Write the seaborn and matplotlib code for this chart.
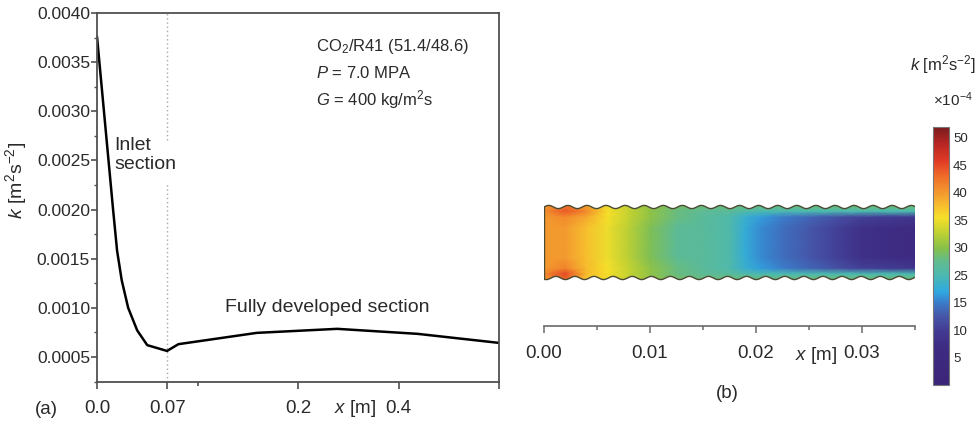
import numpy as np
import pandas as pd
import matplotlib
matplotlib.use("Agg")
import matplotlib.pyplot as plt
import seaborn as sns
from matplotlib.colors import LinearSegmentedColormap, Normalize
from matplotlib.path import Path
from matplotlib.patches import PathPatch
from matplotlib.ticker import FixedLocator

# ---------------- data: panel (a) ----------------
x_m = [0.0, 0.016, 0.020, 0.0246, 0.031, 0.040, 0.050, 0.0697, 0.081, 0.159, 0.278, 0.438, 0.6]
k_vals = [0.00376, 0.00200, 0.00158, 0.00128, 0.00100, 0.00077, 0.00062, 0.000561,
          0.00063, 0.000745, 0.000786, 0.000735, 0.000643]
xticks_a = [0.0, 0.07, 0.2, 0.4, 0.6]
xticklabels_a = ["0.0", "0.07", "0.2", "0.4", ""]
yticks_a = [0.0005, 0.0010, 0.0015, 0.0020, 0.0025, 0.0030, 0.0035, 0.0040]
yticklabels_a = ["0.0005", "0.0010", "0.0015", "0.0020", "0.0025", "0.0030", "0.0035", "0.0040"]
ann_lines = ["CO$_2$/R41 (51.4/48.6)", "$P$ = 7.0 MPA", "$G$ = 400 kg/m$^2$s"]

# ---------------- data: panel (b) ----------------
field_x = [0, 0.002, 0.004, 0.006, 0.008, 0.010, 0.0125, 0.015, 0.0175, 0.019,
           0.0205, 0.0225, 0.025, 0.0275, 0.030, 0.035]
field_y = [-1.1, -0.88, -0.72, -0.4, 0.0, 0.4, 0.72, 0.88, 1.1]
row_wall_b = [40, 43, 37, 35, 33, 30.5, 29, 28.5, 28.5, 28.5, 28.5, 28.5, 29, 29, 29, 29]
row_near_b = [41, 45, 38, 35.5, 33, 30.5, 28, 27, 26.5, 25.5, 25, 25, 25, 25, 25, 25]
row_mid_b = [40, 41.5, 38, 35.5, 33, 30.5, 28, 26.5, 25.5, 23, 21.5, 20, 18.5, 17, 15.5, 14]
row_core = [40, 40, 37.5, 35, 32.5, 29.5, 27, 26.5, 25.5, 22.5, 20.5, 19, 17.5, 15.5, 13, 11]
row_mid_t = [40, 41, 39, 35.5, 33, 30.5, 28, 26.5, 25.5, 23, 21.5, 20, 18.5, 17, 15.5, 14]
row_near_t = [40.5, 44, 41, 35.5, 33, 30.5, 28, 27, 26.5, 25.5, 25, 25, 25, 25, 25, 25]
row_wall_t = [40, 42, 39, 35, 33, 30.5, 29, 28.5, 28.5, 28.5, 28.5, 28.5, 29, 29, 29, 29]
field_k = [row_wall_b, row_near_b, row_mid_b, row_core, row_core, row_core,
           row_mid_t, row_near_t, row_wall_t]
cbar_ticks = [50, 45, 40, 35, 30, 25, 20, 15, 10]
cbar_labels = ["50", "45", "40", "35", "30", "25", "15", "10", "5"]
xticks_b = [0.0, 0.01, 0.02, 0.03]
xticklabels_b = ["0.00", "0.01", "0.02", "0.03"]

# ---------------- style ----------------
sns.set_style("ticks")
plt.rcParams["font.family"] = ["Liberation Sans", "DejaVu Sans"]
plt.rcParams["mathtext.fontset"] = "custom"
plt.rcParams["mathtext.rm"] = "Liberation Sans"
plt.rcParams["mathtext.it"] = "Liberation Sans:italic"
plt.rcParams["mathtext.sf"] = "Liberation Sans"
TXT = "#2a2a2a"
SPINE = "#505050"

W, H = 977, 426
fig = plt.figure(figsize=(W / 100, H / 100), dpi=100)
fig.patch.set_facecolor("white")

# ---------------- panel (a) ----------------
axL, axR, axT, axB = 97, 499, 13, 382
ax = fig.add_axes([axL / W, 1 - axB / H, (axR - axL) / W, (axB - axT) / H])

df = pd.DataFrame({"x": x_m, "k": k_vals})
sns.lineplot(data=df, x="x", y="k", ax=ax, color="black", lw=1.8, sort=True)


def fwd(x):
    x = np.asarray(x, dtype=float)
    return np.where(x <= 0.2, x, 0.2 + (x - 0.2) / 2.0)


def inv(y):
    y = np.asarray(y, dtype=float)
    return np.where(y <= 0.2, y, 0.2 + (y - 0.2) * 2.0)


ax.set_xscale("function", functions=(fwd, inv))
ax.set_xlim(0, 0.6)
ax.set_ylim(0.000245, 0.0040)

# dotted separator, interrupted by the label
ax.axvline(0.07, ymin=0.656, ymax=1, color="#a8a8a8", lw=1.0, ls=(0, (1, 2)), zorder=1)
ax.axvline(0.07, ymin=0, ymax=0.539, color="#a8a8a8", lw=1.0, ls=(0, (1, 2)), zorder=1)

ax.xaxis.set_major_locator(FixedLocator(xticks_a))
ax.set_xticklabels(xticklabels_a)
ax.xaxis.set_minor_locator(FixedLocator([0.1]))
ax.yaxis.set_major_locator(FixedLocator(yticks_a))
ax.set_yticklabels(yticklabels_a)
ax.yaxis.set_minor_locator(FixedLocator([0.00025 + 0.0005 * i for i in range(8)]))

for s in ax.spines.values():
    s.set_color(SPINE)
    s.set_linewidth(1.3)
ax.tick_params(axis="x", which="major", direction="out", length=5, width=1.2, color=SPINE,
               labelsize=13.5, pad=8, labelcolor=TXT)
ax.tick_params(axis="x", which="minor", direction="out", length=3, width=1.2, color=SPINE)
ax.tick_params(axis="y", which="major", direction="out", length=4, width=1.2, color=SPINE,
               labelsize=12.5, pad=1, labelcolor=TXT)
ax.tick_params(axis="y", which="minor", direction="out", length=2.5, width=1.0, color=SPINE)

ax.set_xlabel("$x$ [m]", fontsize=13.5, color=TXT)
ax.xaxis.set_label_coords((355 - axL) / (axR - axL), -(398 - axB) / (axB - axT))
ax.set_ylabel("$k$ [m$^2$s$^{-2}$]", fontsize=14, color=TXT)
ax.yaxis.set_label_coords(-(97 - 29) / (axR - axL), (axB - 180) / (axB - axT))


def axy(py):
    return (axB - py) / (axB - axT)


def axx(px):
    return (px - axL) / (axR - axL)


ax.text(axx(114), axy(155), "Inlet\nsection", fontsize=14, color=TXT, ha="left", va="center",
        linespacing=1.1, transform=ax.transAxes)
ax.text(axx(327), axy(308), "Fully developed section", fontsize=14, color=TXT,
        ha="center", va="center", transform=ax.transAxes)
for line, py in zip(ann_lines, [47, 73, 100]):
    ax.text(axx(316), axy(py), line, fontsize=12, color=TXT, ha="left", va="center",
            transform=ax.transAxes)

fig.text(46 / W, 1 - 410 / H, "(a)", fontsize=13.5, color=TXT, ha="center", va="center")

# ---------------- panel (b) ----------------
bL, bR, bT, bB = 544, 915, 200, 326
axb = fig.add_axes([bL / W, 1 - bB / H, (bR - bL) / W, (bB - bT) / H])
px_per_unit = 35.5
axb.set_xlim(0, 0.035)
axb.set_ylim(-1 - (bB - 278) / px_per_unit, 1 + (207 - bT) / px_per_unit)

cmap = LinearSegmentedColormap.from_list("kmap", [
    (0.00, "#3b2579"), (0.15, "#3e2b82"), (0.21, "#423a93"), (0.265, "#4656a8"),
    (0.32, "#3a7fcc"), (0.36, "#2fa8e0"), (0.425, "#4cb9b0"), (0.48, "#62bb8e"),
    (0.53, "#86c04a"), (0.595, "#c3d232"), (0.65, "#f6e02a"), (0.70, "#f7bc2e"),
    (0.745, "#f39a2f"), (0.81, "#ef6a28"), (0.87, "#e03a26"), (0.935, "#b82624"),
    (1.00, "#7a1c1e")])
norm = Normalize(vmin=5, vmax=52)

X, Y = np.meshgrid(field_x, field_y)
C = np.array(field_k, dtype=float)
mesh = axb.pcolormesh(X, Y, C, cmap=cmap, norm=norm, shading="gouraud", zorder=1)

wave_len = 0.0018
wave_amp = 0.045
xs = np.linspace(0, 0.035, 900)
top = 1 + wave_amp * np.sin(2 * np.pi * xs / wave_len)
bot = -1 - wave_amp * np.sin(2 * np.pi * xs / wave_len + 0.8)
verts = np.concatenate([np.column_stack([xs, top]), np.column_stack([xs[::-1], bot[::-1]])])
clip = PathPatch(Path(np.vstack([verts, verts[:1]])), transform=axb.transData,
                 facecolor="none", edgecolor="none")
axb.add_patch(clip)
mesh.set_clip_path(clip)
edge_col = "#4b4a34"
axb.plot(xs, top, color=edge_col, lw=1.0, zorder=3)
axb.plot(xs, bot, color=edge_col, lw=1.0, zorder=3)
axb.plot([0, 0], [bot[0], top[0]], color=edge_col, lw=1.0, zorder=3)

for side in ["left", "right", "top"]:
    axb.spines[side].set_visible(False)
axb.spines["bottom"].set_color("#6a6a6a")
axb.spines["bottom"].set_linewidth(1.2)
axb.set_yticks([])
axb.xaxis.set_major_locator(FixedLocator(xticks_b))
axb.set_xticklabels(xticklabels_b)
axb.xaxis.set_minor_locator(FixedLocator([0.005, 0.015, 0.025, 0.035]))
axb.tick_params(axis="x", which="major", direction="out", length=5, width=1.1, color="#6a6a6a",
                labelsize=13.5, pad=9, labelcolor=TXT)
axb.tick_params(axis="x", which="minor", direction="out", length=3, width=1.1, color="#6a6a6a")
axb.set_xlabel("$x$ [m]", fontsize=13.5, color=TXT)
axb.xaxis.set_label_coords((816 - bL) / (bR - bL), -(345 - bB) / (bB - bT))
fig.text(727 / W, 1 - 393 / H, "(b)", fontsize=13.5, color=TXT, ha="center", va="center")

# colorbar
cL, cR, cT, cB = 933, 949, 127, 385
cax = fig.add_axes([cL / W, 1 - cB / H, (cR - cL) / W, (cB - cT) / H])
cb = fig.colorbar(mesh, cax=cax)
cb.set_ticks(cbar_ticks)
cb.set_ticklabels(cbar_labels)
cb.outline.set_edgecolor("#777777")
cb.outline.set_linewidth(0.8)
cax.tick_params(axis="y", which="both", direction="in", left=True, right=True,
                labelleft=False, labelright=True, length=3, width=1.0, color="#333333",
                labelsize=9.5, pad=3, labelcolor=TXT)
cax.minorticks_off()
fig.text(976 / W, 1 - 65 / H, "$k$ [m$^2$s$^{-2}$]", fontsize=12, color=TXT,
         ha="right", va="center")
fig.text(973 / W, 1 - 100 / H, "×10$^{-4}$", fontsize=11, color=TXT, ha="right", va="center")

fig.savefig("out.png", dpi=100, facecolor="white")
